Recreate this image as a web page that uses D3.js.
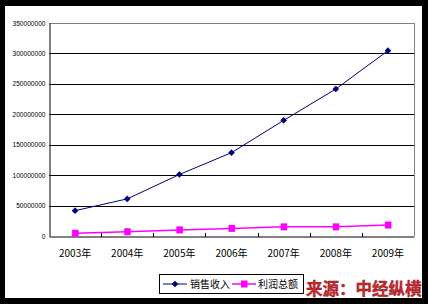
<!DOCTYPE html>
<html>
<head>
<meta charset="utf-8">
<script src="https://cdn.jsdelivr.net/npm/d3@7"></script>
<style>
  html, body { margin: 0; padding: 0; background: #000; }
  svg { display: block; }
</style>
</head>
<body>
<div id="viz"></div>
<script>
const years = ['2003年', '2004年', '2005年', '2006年', '2007年', '2008年', '2009年'];
const sales = [41600000, 61000000, 101000000, 137000000, 190000000, 241500000, 304500000];
const profit = [4500000, 7000000, 10000000, 12500000, 15000000, 15000000, 18000000];
const yTicks = [0, 50000000, 100000000, 150000000, 200000000, 250000000, 300000000, 350000000];
const seriesNames = ['销售收入', '利润总额'];

const width = 428, height = 304;
const plot = { left: 49, right: 414, top: 23, bottom: 236 };

const svg = d3.select('#viz').append('svg')
  .attr('width', width)
  .attr('height', height);

// white card inside the black frame
svg.append('rect')
  .attr('x', 5).attr('y', 6)
  .attr('width', 417).attr('height', 292)
  .attr('fill', '#fff');

const x = d3.scaleBand().domain(years).range([plot.left, plot.right]);
const y = d3.scaleLinear().domain([0, 350000000]).range([plot.bottom, plot.top]);

// plot area outline (grey top/right)
svg.append('path')
  .attr('d', `M${plot.left},${plot.top}H${plot.right}V${plot.bottom}`)
  .attr('fill', 'none')
  .attr('stroke', '#808080')
  .attr('stroke-width', 1)
  .attr('shape-rendering', 'crispEdges');

// gridlines
svg.append('g')
  .selectAll('line')
  .data(yTicks.filter(d => d > 0 && d < 350000000))
  .join('line')
  .attr('x1', plot.left).attr('x2', plot.right)
  .attr('y1', d => Math.round(y(d)) + 0.5).attr('y2', d => Math.round(y(d)) + 0.5)
  .attr('stroke', '#000')
  .attr('stroke-width', 1);

// y axis
const yAxis = svg.append('g')
  .attr('transform', `translate(${plot.left + 0.5},0)`)
  .call(d3.axisLeft(y).tickValues(yTicks).tickSize(0).tickPadding(4).tickFormat(d => String(d)));
yAxis.select('.domain').attr('stroke', '#000');
yAxis.selectAll('text')
  .attr('font-family', 'Liberation Sans, Arial, sans-serif')
  .attr('font-size', 6.6)
  .attr('fill', '#000');

// x axis
const xAxis = svg.append('g')
  .attr('transform', `translate(0,${plot.bottom + 0.5})`)
  .call(d3.axisBottom(x).tickSize(0).tickPadding(13));
xAxis.select('.domain').attr('stroke', '#000');
xAxis.selectAll('text')
  .attr('font-family', '"Noto Sans CJK SC", sans-serif')
  .attr('font-size', 10)
  .attr('fill', '#000');

// category separator ticks (inside)
svg.append('g')
  .selectAll('line')
  .data(years.slice(1))
  .join('line')
  .attr('x1', d => Math.round(x(d)) + 0.5).attr('x2', d => Math.round(x(d)) + 0.5)
  .attr('y1', plot.bottom - 3).attr('y2', plot.bottom + 1)
  .attr('stroke', '#000');

const cx = d => x(d) + x.bandwidth() / 2;

// profit series
const profitLine = d3.line().x((d, i) => cx(years[i])).y(d => y(d));
svg.append('path')
  .datum(profit)
  .attr('d', profitLine)
  .attr('fill', 'none')
  .attr('stroke', '#ff00ff')
  .attr('stroke-width', 1.5);
svg.append('g')
  .selectAll('rect')
  .data(profit)
  .join('rect')
  .attr('x', (d, i) => cx(years[i]) - 3)
  .attr('y', d => y(d) - 3.5)
  .attr('width', 6.5).attr('height', 7)
  .attr('fill', '#ff00ff');

// sales series
const salesLine = d3.line().x((d, i) => cx(years[i])).y(d => y(d));
svg.append('path')
  .datum(sales)
  .attr('d', salesLine)
  .attr('fill', 'none')
  .attr('stroke', '#000080')
  .attr('stroke-width', 1);
// square rotated 45deg -> even diamond like Excel's
const diamond = d3.symbol().type(d3.symbolSquare).size(22);
svg.append('g')
  .selectAll('path')
  .data(sales)
  .join('path')
  .attr('d', diamond)
  .attr('transform', (d, i) => `translate(${cx(years[i])},${y(d)}) rotate(45)`)
  .attr('fill', '#000080');

// legend
const legend = svg.append('g');
legend.append('rect')
  .attr('x', 159.5).attr('y', 274.5)
  .attr('width', 144).attr('height', 19)
  .attr('fill', '#fff')
  .attr('stroke', '#000')
  .attr('stroke-width', 1);
const legendItems = [
  { name: seriesNames[0], x0: 163, color: '#000080', marker: 'diamond', tx: 190 },
  { name: seriesNames[1], x0: 232, color: '#ff00ff', marker: 'square', tx: 258 }
];
legendItems.forEach(it => {
  legend.append('line')
    .attr('x1', it.x0).attr('x2', it.x0 + 24)
    .attr('y1', 284).attr('y2', 284)
    .attr('stroke', it.color)
    .attr('stroke-width', it.marker === 'square' ? 1.5 : 1);
  if (it.marker === 'square') {
    legend.append('rect')
      .attr('x', it.x0 + 12 - 3).attr('y', 284 - 3.5)
      .attr('width', 6.5).attr('height', 7)
      .attr('fill', it.color);
  } else {
    legend.append('path')
      .attr('d', diamond)
      .attr('transform', `translate(${it.x0 + 12},284) rotate(45)`)
      .attr('fill', it.color);
  }
  legend.append('text')
    .attr('x', it.tx).attr('y', 288)
    .attr('font-family', '"Noto Sans CJK SC", sans-serif')
    .attr('font-size', 10)
    .attr('fill', '#000')
    .text(it.name);
});

// source watermark
svg.append('text')
  .attr('x', 306).attr('y', 295)
  .attr('font-family', '"Noto Sans CJK SC", sans-serif')
  .attr('font-size', 16.5)
  .attr('font-weight', 700)
  .attr('fill', '#c8282e')
  .attr('stroke', '#8a1a1e')
  .attr('stroke-width', 0.4)
  .text('来源：中经纵横');
</script>
</body>
</html>
